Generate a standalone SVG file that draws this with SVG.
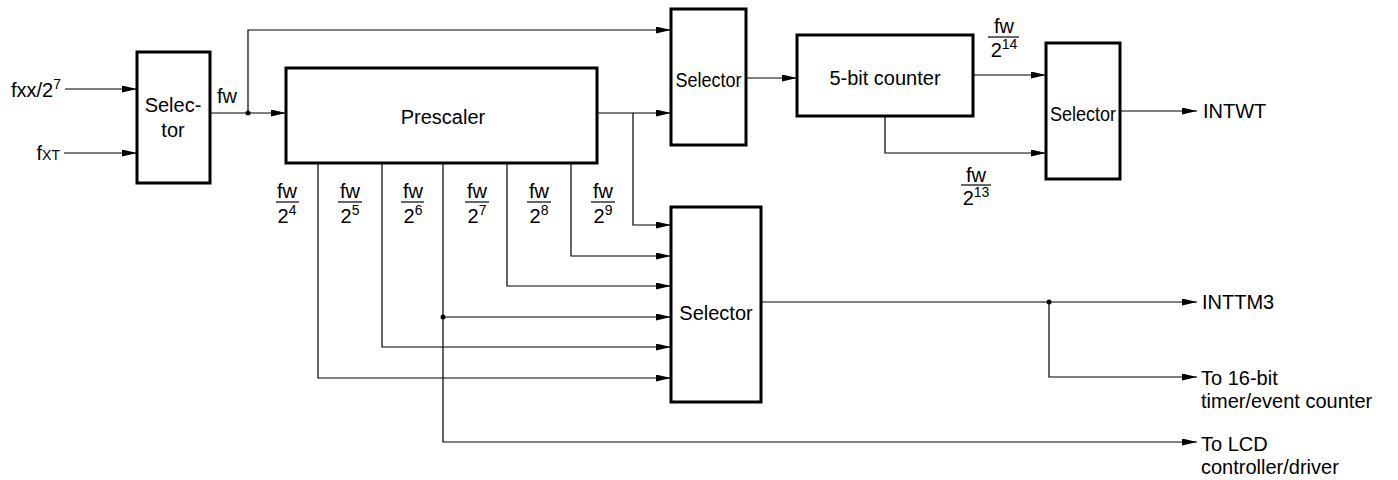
<svg xmlns="http://www.w3.org/2000/svg" width="1398" height="480" viewBox="0 0 1398 480">
<style>
text { font-family: "Liberation Sans", Arial, sans-serif; font-size: 20px; fill: #000; }
.box { fill: #fff; stroke: #000; stroke-width: 3; }
.ln { fill: none; stroke: #000; stroke-width: 1.2; }
.arr { marker-end: url(#ah); }
.mid { text-anchor: middle; }
.sup { font-size: 14px; }
.frac { stroke: #000; stroke-width: 1.2; }
</style>
<defs>
<marker id="ah" markerUnits="userSpaceOnUse" markerWidth="16" markerHeight="8" refX="15" refY="3.5" orient="auto">
<path d="M0,0 L15,3.5 L0,7 z" fill="#000"/>
</marker>
</defs>

<g id="connectors">
<path class="ln arr" d="M65,89 H137"/>
<path class="ln arr" d="M64,153 H137"/>
<path class="ln arr" d="M210,113 H286"/>
<path class="ln arr" d="M248,113 V30 H671"/>
<path class="ln arr" d="M597,113 H671"/>
<path class="ln arr" d="M633,113 V225 H671"/>
<path class="ln arr" d="M571,163 V256 H671"/>
<path class="ln arr" d="M507,163 V286 H671"/>
<path class="ln arr" d="M443,317 H671"/>
<path class="ln arr" d="M443,163 V442 H1197"/>
<path class="ln arr" d="M382,163 V347 H671"/>
<path class="ln arr" d="M318,163 V378 H671"/>
<path class="ln arr" d="M746,78 H797"/>
<path class="ln arr" d="M973,75 H1046"/>
<path class="ln arr" d="M885,116 V153 H1046"/>
<path class="ln arr" d="M1120,111 H1197"/>
<path class="ln arr" d="M761,302 H1197"/>
<path class="ln arr" d="M1049,302 V377 H1197"/>
<circle cx="248" cy="113" r="2.5" fill="#000"/>
<circle cx="443" cy="317" r="2.5" fill="#000"/>
<circle cx="1049" cy="302" r="2.5" fill="#000"/>
</g>

<g id="selector1">
<rect class="box" x="137" y="52" width="73" height="131"/>
<text class="mid" x="173" y="112">Selec-</text>
<text class="mid" x="173" y="137">tor</text>
</g>

<g id="prescaler">
<rect class="box" x="286" y="68" width="311" height="95"/>
<text class="mid" x="443" y="124">Prescaler</text>
</g>

<g id="selector2">
<rect class="box" x="671" y="9" width="75" height="136"/>
<text class="mid" x="708.5" y="87" textLength="66" lengthAdjust="spacingAndGlyphs">Selector</text>
</g>

<g id="counter5">
<rect class="box" x="797" y="35" width="176" height="81"/>
<text class="mid" x="885" y="85">5-bit counter</text>
</g>

<g id="selector4">
<rect class="box" x="1046" y="43" width="74" height="136"/>
<text class="mid" x="1083" y="121" textLength="66" lengthAdjust="spacingAndGlyphs">Selector</text>
</g>

<g id="selector3">
<rect class="box" x="671" y="207" width="90" height="195"/>
<text class="mid" x="716" y="320">Selector</text>
</g>

<g id="labels">
<text x="61" y="97" text-anchor="end">fxx/2<tspan class="sup" dy="-8">7</tspan></text>
<text x="60" y="160" text-anchor="end">f<tspan class="sup">XT</tspan></text>
<text x="217" y="103">fw</text>

<text class="mid" x="287" y="198">fw</text>
<line class="frac" x1="276" y1="202" x2="299" y2="202"/>
<text class="mid" x="287" y="223">2<tspan class="sup" dy="-8">4</tspan></text>

<text class="mid" x="350" y="198">fw</text>
<line class="frac" x1="338" y1="202" x2="362" y2="202"/>
<text class="mid" x="350" y="223">2<tspan class="sup" dy="-8">5</tspan></text>

<text class="mid" x="413" y="198">fw</text>
<line class="frac" x1="401" y1="202" x2="424" y2="202"/>
<text class="mid" x="413" y="223">2<tspan class="sup" dy="-8">6</tspan></text>

<text class="mid" x="477" y="198">fw</text>
<line class="frac" x1="465" y1="202" x2="489" y2="202"/>
<text class="mid" x="477" y="223">2<tspan class="sup" dy="-8">7</tspan></text>

<text class="mid" x="539" y="198">fw</text>
<line class="frac" x1="527" y1="202" x2="551" y2="202"/>
<text class="mid" x="539" y="223">2<tspan class="sup" dy="-8">8</tspan></text>

<text class="mid" x="603" y="198">fw</text>
<line class="frac" x1="591" y1="202" x2="615" y2="202"/>
<text class="mid" x="603" y="223">2<tspan class="sup" dy="-8">9</tspan></text>

<text class="mid" x="1004" y="33">fw</text>
<line class="frac" x1="988" y1="37" x2="1019" y2="37"/>
<text class="mid" x="1004" y="57">2<tspan class="sup" dy="-8">14</tspan></text>

<text class="mid" x="976" y="182">fw</text>
<line class="frac" x1="961" y1="185" x2="991" y2="185"/>
<text class="mid" x="976" y="205">2<tspan class="sup" dy="-8">13</tspan></text>

<text x="1203" y="118">INTWT</text>
<text x="1202" y="309">INTTM3</text>
<text x="1201" y="385">To 16-bit</text>
<text x="1201" y="408">timer/event counter</text>
<text x="1201" y="451">To LCD</text>
<text x="1201" y="474">controller/driver</text>
</g>
</svg>
